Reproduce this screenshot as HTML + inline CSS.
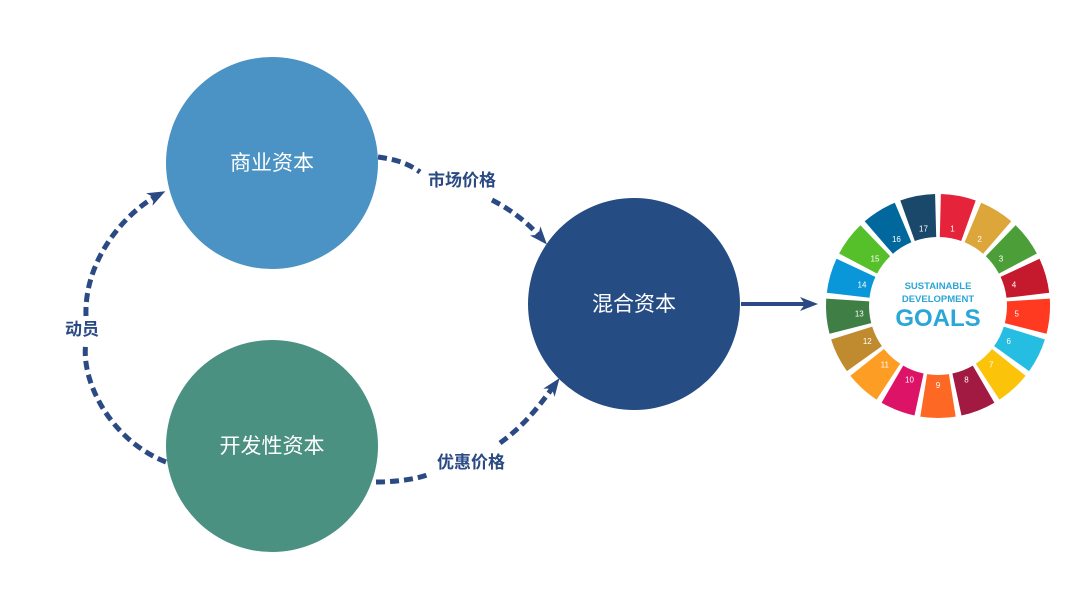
<!DOCTYPE html>
<html><head><meta charset="utf-8"><style>
html,body{margin:0;padding:0;background:#fff;}
body{width:1080px;height:608px;overflow:hidden;font-family:"Liberation Sans","Noto Sans CJK SC",sans-serif;}
</style></head><body>
<svg id="s" width="1080" height="608" viewBox="0 0 1080 608" xmlns="http://www.w3.org/2000/svg">
<defs>
<marker id="ah2" markerWidth="20" markerHeight="20" refX="12" refY="9" orient="auto" markerUnits="userSpaceOnUse">
<path d="M0,2 L18,9 L0,16 L5,9 z" fill="#2b4a84"/>
</marker>
</defs>
<g fill="none" stroke="#2b4a84" stroke-width="5" stroke-dasharray="9,5">
<path d="M166,462 C110,440 80,380 86,342" />
<path d="M86,316 C84,260 125,212 160,194" marker-end="url(#ah2)"/>
<path d="M378,157 C400,160 410,165 420,172" />
<path d="M492,200 C515,212 530,225 543,240" marker-end="url(#ah2)"/>
<path d="M376,482 C400,482 420,478 430,474" />
<path d="M500,443 C525,425 540,405 556,383" marker-end="url(#ah2)"/>
</g>
<line x1="741" y1="304" x2="812" y2="304" stroke="#2b4a84" stroke-width="4" marker-end="url(#ah2)"/>
<circle cx="272" cy="163" r="106" fill="#4a93c4"/>
<circle cx="272" cy="446" r="106" fill="#4a9181"/>
<circle cx="634" cy="304" r="106" fill="#264c84"/>
<g font-family="'Liberation Sans','Noto Sans CJK SC',sans-serif" fill="#fff" font-size="21" text-anchor="middle">
<text x="272" y="170">商业资本</text>
<text x="272" y="453">开发性资本</text>
<text x="634" y="311">混合资本</text>
</g>
<g font-family="'Liberation Sans','Noto Sans CJK SC',sans-serif" fill="#2b4a84" font-size="17" font-weight="bold" text-anchor="middle">
<text x="82" y="335">动员</text>
<text x="462" y="186">市场价格</text>
<text x="471" y="468">优惠价格</text>
</g>
<g id="wheel"></g>
<g font-family="'Liberation Sans',sans-serif" text-anchor="middle" font-weight="bold">
<text x="938" y="289" font-size="9.5" fill="#2aa6d8">SUSTAINABLE</text>
<text x="938" y="302" font-size="9.5" fill="#2aa6d8">DEVELOPMENT</text>
<text x="938" y="326" font-size="24" fill="#2aa6d8">GOALS</text>
</g>
</svg>
<script>
var cols=["#e5243b","#dda63a","#4c9f38","#c5192d","#ff3a21","#26bde2","#fcc30b","#a21942","#fd6925","#dd1367","#fd9d24","#bf8b2e","#3f7e44","#0a97d9","#56c02b","#00689d","#19486a"];
var cx=938,cy=306,R=112,r=69,g=document.getElementById('wheel'),h='';
for(var i=0;i<17;i++){var a0=(i*360/17+1.5)*Math.PI/180,a1=((i+1)*360/17-1.5)*Math.PI/180;
function p(rr,a){return (cx+rr*Math.sin(a)).toFixed(1)+','+(cy-rr*Math.cos(a)).toFixed(1);}
h+='<path d="M'+p(r,a0)+' L'+p(R,a0)+' A'+R+','+R+' 0 0 1 '+p(R,a1)+' L'+p(r,a1)+' A'+r+','+r+' 0 0 0 '+p(r,a0)+' Z" fill="'+cols[i]+'"/>';
var am=(a0+a1)/2;var q=p(r+10,am).split(',');
h+='<text x="'+q[0]+'" y="'+(+q[1]+3)+'" font-size="8" fill="#fff" text-anchor="middle" font-family="Liberation Sans">'+(i+1)+'</text>';}
g.innerHTML=h;
</script>
</body></html>
